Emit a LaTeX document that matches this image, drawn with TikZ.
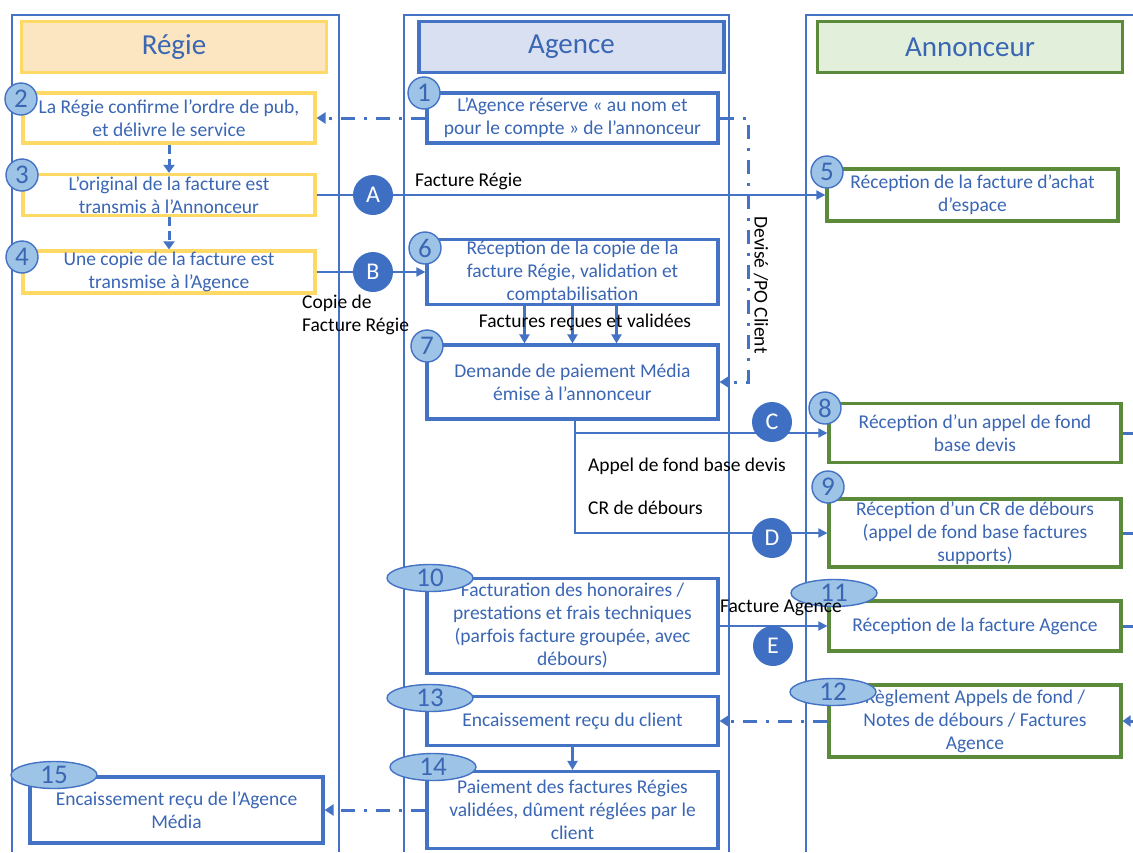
\documentclass[tikz,border=0pt]{standalone}
\usepackage{fontspec}
\setmainfont{Carlito}
\usetikzlibrary{arrows.meta,shapes.geometric}
\definecolor{lblue}{HTML}{4472C4}
\definecolor{txtblue}{HTML}{3A66B4}
\definecolor{ylw}{HTML}{FFD966}
\definecolor{grn}{HTML}{5A8A3A}
\definecolor{badgefill}{HTML}{9DC3E6}
\definecolor{hregie}{HTML}{FCE6C2}
\definecolor{hagence}{HTML}{D8E0F1}
\definecolor{hannon}{HTML}{E2EFDA}
\definecolor{letterfill}{HTML}{3F6FC2}
\tikzset{
  lane/.style={draw=lblue, line width=1.3pt},
  header/.style={draw, line width=3.4pt, text=txtblue, font=\fontsize{29}{32}\selectfont, minimum width=305pt, minimum height=51pt, inner sep=0pt},
  box/.style={draw, line width=3.2pt, align=center, text=txtblue, font=\fontsize{19.5}{23}\selectfont, inner sep=1pt, fill=white},
  rbox/.style={box, draw=ylw},
  abox/.style={box, draw=lblue},
  nbox/.style={box, draw=grn},
  badge/.style={circle, draw=lblue, line width=1.4pt, fill=badgefill, text=txtblue, minimum size=32pt, inner sep=0pt, font=\fontsize{27}{27}\selectfont},
  ebadge/.style={ellipse, draw=lblue, line width=1.4pt, fill=badgefill, text=txtblue, minimum width=86pt, minimum height=27pt, inner sep=0pt, font=\fontsize{27}{27}\selectfont},
  letter/.style={circle, fill=letterfill, text=white, minimum size=40pt, inner sep=0pt, font=\fontsize{24}{24}\selectfont},
  flow/.style={draw=lblue, line width=1.8pt, -{Triangle[length=9pt,width=9pt]}},
  thickflow/.style={draw=lblue, line width=3pt, -{Triangle[length=9pt,width=10pt]}},
  dashdot/.style={draw=lblue, line width=3pt, dash pattern=on 14pt off 9pt on 3pt off 9pt, -{Triangle[length=9pt,width=11pt]}},
  dashline/.style={draw=lblue, line width=3pt, dash pattern=on 9pt off 5pt, -{Triangle[length=8pt,width=11pt]}},
  lbl/.style={text=black, font=\fontsize{19.5}{23}\selectfont, inner sep=0pt},
}
\begin{document}
\begin{tikzpicture}[x=1pt,y=-1pt]
\useasboundingbox (0,0) rectangle (1133,852);
% lanes
\draw[lane] (12,852) -- (12,15) -- (339,15) -- (339,852);
\draw[lane] (404,852) -- (404,15) -- (729,15) -- (729,852);
\draw[lane] (1133,15) -- (806,15) -- (806,852);
% headers
\node[header, draw=ylw, fill=hregie] (hR) at (174,47) {Régie};
\node[header, draw=lblue, fill=hagence] (hA) at (571.5,47) {Agence};
\node[header, draw=grn, fill=hannon] (hN) at (970,47) {Annonceur};
% boxes
\node[abox, minimum width=291pt, minimum height=50pt] (b1) at (572.5,118) {L’Agence réserve « au nom et\\pour le compte » de l’annonceur};
\node[rbox, minimum width=292pt, minimum height=50pt] (b2) at (169,118) {La Régie confirme l’ordre de pub,\\et délivre le service};
\node[rbox, minimum width=292pt, minimum height=41pt] (b3) at (169,195) {L’original de la facture est\\transmis à l’Annonceur};
\node[rbox, minimum width=292pt, minimum height=42pt] (b4) at (169,272) {Une copie de la facture est\\transmise à l’Agence};
\node[nbox, minimum width=291pt, minimum height=52pt] (b5) at (972.5,195) {Réception de la facture d’achat\\d’espace};
\node[abox, minimum width=291pt, minimum height=65pt] (b6) at (572.5,272) {Réception de la copie de la\\facture Régie, validation et\\comptabilisation};
\node[abox, minimum width=291pt, minimum height=74pt] (b7) at (572.5,382) {Demande de paiement Média\\émise à l’annonceur};
\node[nbox, minimum width=292pt, minimum height=59pt] (b8) at (975,433) {Réception d’un appel de fond\\base devis};
\node[nbox, minimum width=292pt, minimum height=68pt] (b9) at (975,533) {Réception d’un CR de débours\\(appel de fond base factures\\supports)};
\node[abox, minimum width=291pt, minimum height=95pt] (b10) at (572.5,626) {Facturation des honoraires /\\prestations et frais techniques\\(parfois facture groupée, avec\\débours)};
\node[nbox, minimum width=292pt, minimum height=50pt] (b11) at (975,626) {Réception de la facture Agence};
\node[nbox, minimum width=292pt, minimum height=72pt] (b12) at (975,721) {Règlement Appels de fond /\\Notes de débours / Factures\\Agence};
\node[abox, minimum width=291pt, minimum height=49pt] (b13) at (572.5,721) {Encaissement reçu du client};
\node[abox, minimum width=291pt, minimum height=77pt] (b14) at (572.5,810) {Paiement des factures Régies\\validées, dûment réglées par le\\client};
\node[abox, minimum width=293pt, minimum height=66pt] (b15) at (176.5,810) {Encaissement reçu de l’Agence\\Média};
% connector coordinates
\coordinate (d1) at (748,118);
\coordinate (d2) at (748,382);
\coordinate (c7) at (575,433);
\coordinate (c7b) at (575,533);
\coordinate (e8) at (1133,433);
\coordinate (e9) at (1133,533);
\coordinate (e11) at (1133,626);
\coordinate (e12) at (1133,721);
% connectors
\draw[dashdot] (b1.west) -- (b2.east);
\draw[dashdot] (b1.east) -- (d1) -- (d2) -- (b7.east);
\draw[dashline] (b2.south) -- (b3.north);
\draw[dashline] (b3.south) -- (b4.north);
\draw[flow] (b3.east) -- (b5.west);
\draw[flow] (b4.east) -- (b6.west);
\draw[thickflow] ([xshift=-48pt]b6.south) -- ([xshift=-48pt]b7.north);
\draw[thickflow] (b6.south) -- (b7.north);
\draw[thickflow] ([xshift=44pt]b6.south) -- ([xshift=44pt]b7.north);
\draw[flow] (b7.south -| c7) -- (c7) -- (b8.west);
\draw[flow] (c7) -- (c7b) -- (b9.west);
\draw[flow] (b10.east) -- (b11.west);
\draw[dashdot] (b12.west) -- (b13.east);
\draw[thickflow] (b13.south) -- (b14.north);
\draw[dashdot] (b14.west) -- (b15.east);
\draw[draw=lblue, line width=3pt] (b8.east) -- (e8);
\draw[draw=lblue, line width=3pt] (b9.east) -- (e9);
\draw[draw=lblue, line width=3pt] (b11.east) -- (e11);
\draw[draw=lblue, line width=3pt, -{Triangle[length=8pt,width=11pt]}] (e12) -- (b12.east);
% letter circles
\node[letter] (lA) at (373,195) {A};
\node[letter] (lB) at (373,272) {B};
\node[letter] (lC) at (772,422) {C};
\node[letter] (lD) at (772,538) {D};
\node[letter] (lE) at (773,646) {E};
% badges
\node[badge] (n1) at (424,93) {1};
\node[badge] (n2) at (21,99) {2};
\node[badge] (n3) at (22,175) {3};
\node[badge] (n4) at (22,257) {4};
\node[badge] (n5) at (827,172) {5};
\node[badge] (n6) at (425,248) {6};
\node[badge] (n7) at (427,346) {7};
\node[badge] (n8) at (825,408) {8};
\node[badge] (n9) at (828,487) {9};
\node[ebadge] (n10) at (430,578) {10};
\node[ebadge] (n11) at (834,593) {11};
\node[ebadge] (n12) at (833,692) {12};
\node[ebadge] (n13) at (430,698) {13};
\node[ebadge] (n14) at (433,767) {14};
\node[ebadge] (n15) at (54,775) {15};
% labels
\node[lbl, anchor=west] (tA) at (415,181) {Facture Régie};
\node[lbl, anchor=west, align=left] (tB) at (302,315) {Copie de\\Facture Régie};
\node[lbl] (t67) at (585,322) {Factures reçues et validées};
\node[lbl, rotate=-90] (tD) at (761,285) {Devisé /PO Client};
\node[lbl, anchor=west] (tC) at (588,466) {Appel de fond base devis};
\node[lbl, anchor=west] (tDb) at (588,508) {CR de débours};
\node[lbl, anchor=west] (tE) at (720,608) {Facture Agence};
\end{tikzpicture}
\end{document}
